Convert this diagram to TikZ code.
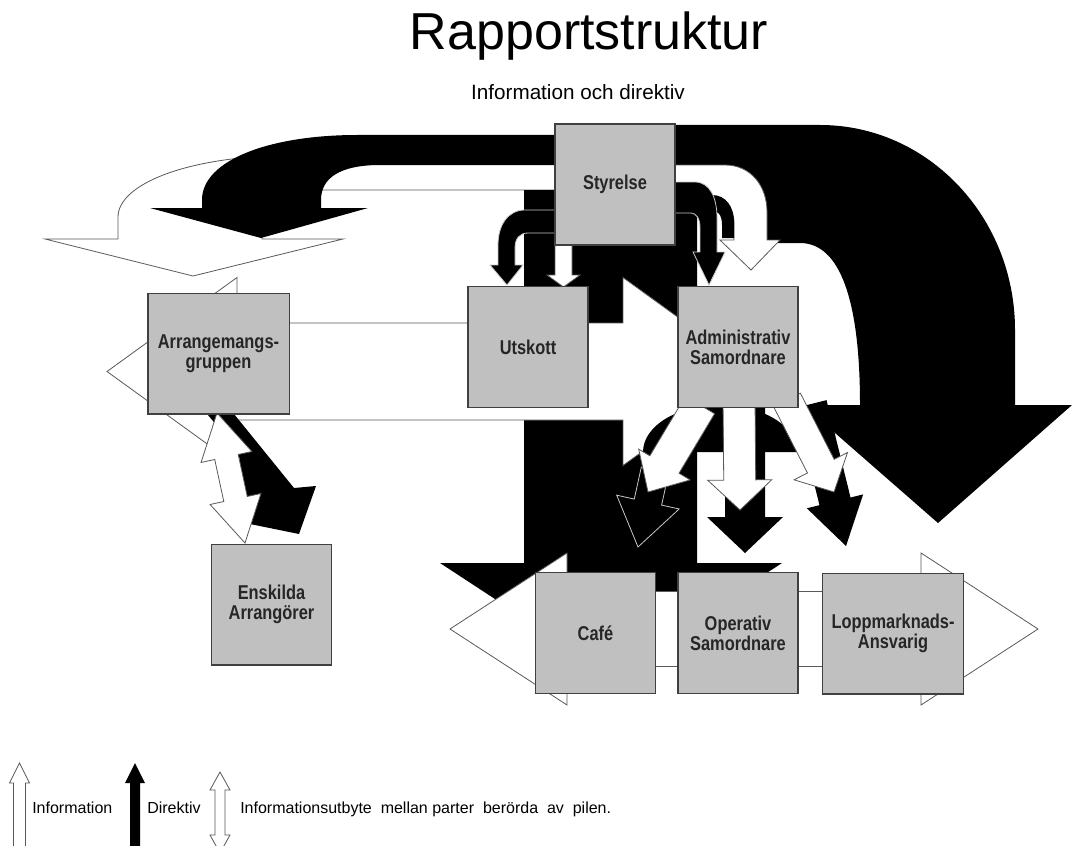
\documentclass[tikz,border=0pt]{standalone}
\usepackage{fontspec}
\setmainfont{Liberation Sans}
\newfontfamily\boxfont[FakeStretch=0.82]{Liberation Sans}
\definecolor{boxgray}{RGB}{192,192,192}
\newcommand{\blockarrow}[8]{%
  \pgfmathsetmacro\baAng{atan2(-(#5-#3),#4-#2)}%
  \pgfmathsetmacro\baLen{veclen(#4-#2,#5-#3)}%
  \pgfmathsetmacro\baNeck{\baLen-#8}%
  \begin{scope}[shift={(#2,#3)},rotate=\baAng]
    \path[#1] (0,-#6) -- (\baNeck,-#6) -- (\baNeck,-#7) -- (\baLen,0) -- (\baNeck,#7) -- (\baNeck,#6) -- (0,#6) -- cycle;
  \end{scope}}
\newcommand{\dblarrow}[8]{%
  \pgfmathsetmacro\baAng{atan2(-(#5-#3),#4-#2)}%
  \pgfmathsetmacro\baLen{veclen(#4-#2,#5-#3)}%
  \pgfmathsetmacro\baNeck{\baLen-#8}%
  \begin{scope}[shift={(#2,#3)},rotate=\baAng]
    \path[#1] (0,0) -- (#8,#7) -- (#8,#6) -- (\baNeck,#6) -- (\baNeck,#7) -- (\baLen,0) -- (\baNeck,-#7) -- (\baNeck,-#6) -- (#8,-#6) -- (#8,-#7) -- cycle;
  \end{scope}}
\tikzset{
  whiteshape/.style={fill=white, draw=black!65, line width=0.6pt, line join=miter},
  blackshape/.style={fill=black, draw=none},
  blackoutl/.style={fill=black, draw=black!22, line width=0.6pt, line join=miter},
  orgbox/.style={draw=black!75, line width=1pt, fill=boxgray, minimum width=90pt,
    minimum height=90.5pt, inner sep=1pt, align=center,
    font=\boxfont\bfseries\fontsize{15}{15}\selectfont, text=black!85},
  widebox/.style={orgbox, minimum width=106pt},
  legtext/.style={anchor=base west, font=\fontsize{12}{14}\selectfont, inner sep=0pt}
}
\begin{document}
\begin{tikzpicture}[x=0.75pt, y=-0.75pt]
\useasboundingbox (0,0) rectangle (1073,845);

% titles
\node[anchor=base, font=\fontsize{39}{45}\selectfont, inner sep=0pt] (title) at (589,50) {Rapportstruktur};
\node[anchor=base, font=\fontsize{15.5}{18}\selectfont, inner sep=0pt] (sub) at (578,100) {Information och direktiv};

% white curved arrow to the left (behind)
\path[whiteshape] (556,155) -- (300,155) .. controls (185,155) and (118,185) .. (118,217)
  -- (118,239) -- (45,239) -- (193,276) -- (343,239) -- (262,239)
  .. controls (262,205) and (280,190) .. (320,190) -- (556,190) -- cycle;
% black curved arrow to the left
\path[blackshape] (556,135) -- (357,135) .. controls (270,135) and (202,160) .. (202,200)
  -- (202,208) -- (150,208) -- (261,238) -- (368,208) -- (321,208) -- (321,200)
  .. controls (321,178) and (340,165) .. (380,165) -- (556,165) -- cycle;

% big black arrow down to Cafe
\path[blackshape] (524,190) -- (697,190) -- (697,563) -- (782,563) -- (611,675)
  -- (440,563) -- (524,563) -- cycle;

% big black arc arrow on the right
\path[blackshape] (675,125) -- (820,125) .. controls (928,125) and (1015,217) .. (1015,330)
  -- (1015,405) -- (1072,405) -- (938,523) -- (803,405) -- (860,405)
  .. controls (860,300) and (840,243) .. (800,243) -- (767,243) -- (767,212)
  .. controls (767,185) and (750,165) .. (725,165) -- (675,165) -- cycle;

% white curved arrow Styrelse -> Administrativ
\path[whiteshape] (675,165) -- (725,165) .. controls (750,165) and (767,185) .. (767,212)
  -- (767,240) -- (780,240) -- (751,270) -- (720,240) -- (734,240) -- (734,222)
  .. controls (734,210) and (725,200) .. (712,200) -- (675,200) -- cycle;

% small black curved arrows Styrelse -> Administrativ
\path[blackshape] (675,195) -- (712,195) .. controls (726,195) and (734,207) .. (734,222)
  -- (734,238) -- (722,238) -- (722,225) .. controls (722,215) and (718,210) .. (710,210)
  -- (675,210) -- cycle;
\path[blackoutl] (675,182) -- (695,182) .. controls (710,182) and (717,198) .. (717,218)
  -- (717,252) -- (725,252) -- (709,285) -- (693,252) -- (700,252) -- (700,228)
  .. controls (700,219) and (697,213) .. (690,213) -- (675,213);

% small arrows Styrelse -> Utskott
\path[blackoutl] (556,210) -- (525,210) .. controls (508,210) and (498,225) .. (498,245)
  -- (498,265) -- (490,265) -- (507,285) -- (523,265) -- (515,265) -- (515,248)
  .. controls (515,238) and (520,233) .. (528,233) -- (556,233);
\blockarrow{whiteshape}{563.5}{240}{563.5}{287}{8.5}{16.5}{12}

% white double arrow Arrangemangsgruppen <-> Administrativ
\dblarrow{whiteshape}{107}{371.5}{753}{371.5}{48.5}{94}{130}

% black half disc under Administrativ
\path[blackshape] (643,452) .. controls (643,426) and (677.5,405) .. (720,405)
  .. controls (762.5,405) and (797,426) .. (797,452) -- cycle;

% fan of arrows from Administrativ Samordnare
\blockarrow{blackoutl}{655}{470}{638}{547}{14}{32}{46}
\blockarrow{whiteshape}{700}{405}{648}{492}{17}{30}{32}
\blockarrow{blackshape}{745}{400}{745}{553}{20}{38}{36}
\blockarrow{whiteshape}{739}{400}{740}{510}{16}{32}{30}
\blockarrow{blackshape}{811}{404}{846}{546}{16}{29}{46}
\blockarrow{whiteshape}{787}{400}{834}{492}{15}{30}{29}

% white double arrow along the bottom row
\dblarrow{whiteshape}{450}{629}{1038}{629}{37.5}{76}{117}

% Arrangemangsgruppen -> Enskilda Arrangorer
\path[blackshape] (207,414) -- (234,414) -- (294,488) -- (316,486) -- (299,534)
  -- (250,524) -- (238,450) -- cycle;
\dblarrow{whiteshape}{217}{413}{245}{543}{12}{26}{45}

% boxes
\node[orgbox] (sty) at (615,184.5) {Styrelse};
\node[orgbox] (uts) at (528,347) {Utskott};
\node[orgbox] (adm) at (738,347) {Administrativ\\Samordnare};
\node[widebox] (arr) at (218.5,353.5) {Arrangemangs-\\gruppen};
\node[orgbox] (ens) at (271.5,604.5) {Enskilda\\Arrangörer};
\node[orgbox] (cafe) at (595.5,633) {Café};
\node[orgbox] (ope) at (738,633) {Operativ\\Samordnare};
\node[widebox] (lop) at (893,633.5) {Loppmarknads-\\Ansvarig};

% legend
\blockarrow{whiteshape}{19.5}{850}{19.5}{763}{6}{10}{20}
\node[legtext] (l1) at (32,813) {Information};
\blockarrow{blackshape}{135}{850}{135}{763}{5}{10}{20}
\node[legtext] (l2) at (147,813) {Direktiv};
\dblarrow{whiteshape}{220}{772}{220}{853}{5}{10}{18}
\node[legtext] (l3) at (240,813) {Informationsutbyte\ \ mellan parter\ \ berörda\ \ av\ \ pilen.};
\end{tikzpicture}
\end{document}
